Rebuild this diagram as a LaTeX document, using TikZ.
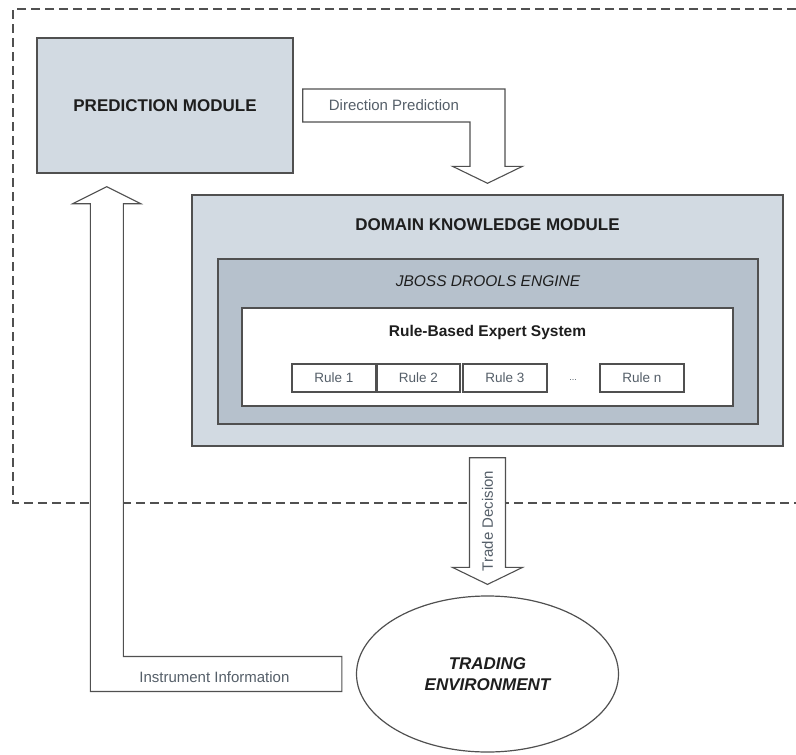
\documentclass[tikz,border=0pt]{standalone}
\usepackage{fontspec}
\setmainfont{Liberation Sans}
\usepackage{tikz}
\usetikzlibrary{shapes.geometric,calc}
\definecolor{modulefill}{RGB}{210,218,226}
\definecolor{enginefill}{RGB}{182,193,204}
\definecolor{edgegrey}{RGB}{80,80,80}
\definecolor{labelgrey}{RGB}{85,95,105}
\definecolor{titleblack}{RGB}{30,30,30}

\begin{document}
\begin{tikzpicture}[x=1pt, y=-1pt,
    box/.style={draw=edgegrey, line width=1.4pt, inner sep=0pt},
    module/.style={box, fill=modulefill},
    engine/.style={box, fill=enginefill},
    system/.style={box, fill=white},
    rule/.style={box, fill=white, line width=1.2pt, minimum width=84pt, minimum height=28pt, text=labelgrey, font=\fontsize{13.5}{16}\selectfont},
    title/.style={text=titleblack, font=\fontsize{17}{21}\selectfont\bfseries},
    blockarrow/.style={draw=edgegrey, fill=white, line width=1.1pt, line join=miter},
    arrowlabel/.style={text=labelgrey, inner sep=0pt, font=\fontsize{15}{18}\selectfont},
    boundary/.style={draw=edgegrey, line width=1.2pt, dash pattern=on 9pt off 5pt}
]

\useasboundingbox (0,0) rectangle (796,755);

% system boundary
\draw[boundary] (796,9) -- (13,9) -- (13,503) -- (796,503);

% modules
\node[module, title, minimum width=256pt, minimum height=135pt] (pred) at (165,105.5) {PREDICTION MODULE};

\node[module, minimum width=591pt, minimum height=251pt] (dkm) at (487.5,320.5) {};
\node[title] (dkmtitle) at ([yshift=-30pt]dkm.north) {DOMAIN KNOWLEDGE MODULE};

\node[engine, minimum width=540pt, minimum height=165pt] (drools) at (488,341.5) {};
\node[title, font=\fontsize{15.5}{18}\selectfont\itshape] (droolstitle) at ([yshift=-23pt]drools.north) {JBOSS DROOLS ENGINE};

\node[system, minimum width=491pt, minimum height=98pt] (res) at (487.5,357) {};
\node[title, font=\fontsize{15.5}{18}\selectfont\bfseries] (restitle) at ([yshift=-25pt]res.north) {Rule-Based Expert System};

% rules
\node[rule] (rule1) at (334,378) {Rule 1};
\node[rule, minimum width=83pt] (rule2) at (418.5,378) {Rule 2};
\node[rule] (rule3) at (505,378) {Rule 3};
\node[text=labelgrey, font=\small] (dots) at (573,380) {...};
\node[rule] (rulen) at (642,378) {Rule n};

\node[ellipse, draw=edgegrey, line width=1.2pt, minimum width=262pt, minimum height=156pt, align=center, title, font=\fontsize{17}{21}\selectfont\bfseries\itshape] (env) at (487.5,674) {TRADING\\ENVIRONMENT};

% direction prediction
\coordinate (dptip) at ([yshift=11pt]dkm.north);
\draw[blockarrow] ([xshift=9pt,yshift=16.5pt]pred.east) -| ($(dptip)+(17.5,-17)$) -- ++(17.5,0) -- (dptip) -- ++(-35,-17) -- ++(17.5,0) |- ([xshift=9pt,yshift=-16.5pt]pred.east) -- cycle;
\node[arrowlabel, anchor=west] (dplabel) at ([xshift=35pt]pred.east) {Direction Prediction};

% trade decision
\coordinate (tdtop) at ([yshift=-11pt]dkm.south);
\coordinate (tdtip) at ([yshift=11pt]env.north);
\draw[blockarrow] ($(tdtop)+(-18,0)$) -- ++(36,0) -- ($(tdtip)+(18,-17)$) -- ++(17,0) -- (tdtip) -- ++(-35,-17) -- ++(17,0) -- cycle;
\node[arrowlabel, rotate=90] (tdlabel) at ($(tdtop)!0.5!(tdtip)$) {Trade Decision};

% instrument information
\coordinate (iitip) at ([xshift=70.5pt,yshift=-13pt]pred.south west);
\draw[blockarrow] ([xshift=-14pt,yshift=17.5pt]env.west) -| ($(iitip)+(16.5,17)$) -- ++(17.5,0) -- (iitip) -- ++(-34,17) -- ++(17.5,0) |- ([xshift=-14pt,yshift=-17.5pt]env.west) -- cycle;
\node[arrowlabel] (iilabel) at ([xshift=-141.5pt,yshift=-3pt]env.west) {Instrument Information};

\end{tikzpicture}
\end{document}
